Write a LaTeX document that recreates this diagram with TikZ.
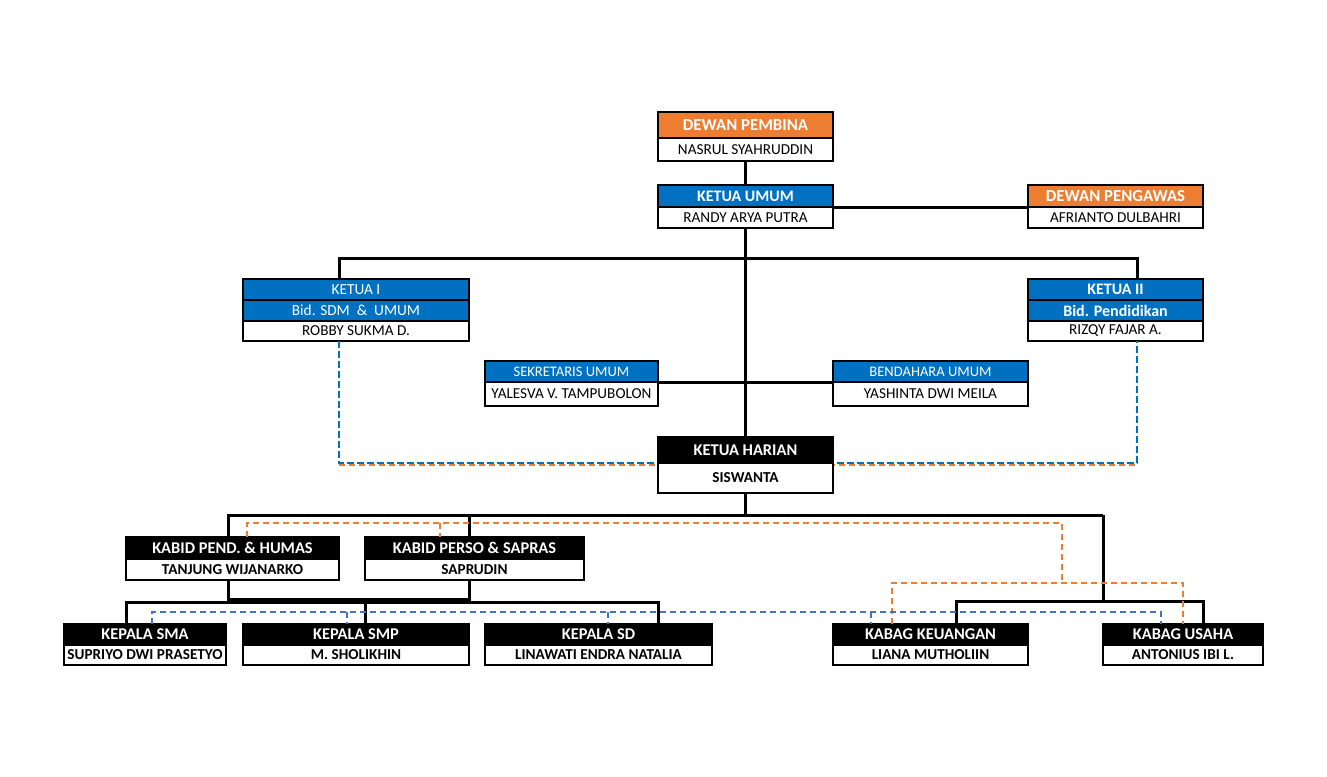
\documentclass[tikz,border=0pt]{standalone}
\usepackage{fontspec}
\setmainfont{Carlito}
\definecolor{xorange}{RGB}{237,125,49}
\definecolor{xblue}{RGB}{0,112,192}
\definecolor{lblue}{RGB}{68,114,196}
\newcommand\mycell[7]{\node[#2,minimum width={(#5-#3)*0.75pt},minimum height={(#6-#4)*0.75pt}] (#1) at ({(#3+#5)/2},{(#4+#6)/2}) {\raisebox{-0.8pt}{#7}};}
\begin{document}
\begin{tikzpicture}[x=0.75pt,y=-0.75pt,
  cell/.style={draw=black,line width=1pt,inner sep=0pt,outer sep=0pt,font=\fontsize{11.4}{13}\selectfont},
  oh/.style={cell,fill=xorange,text=white,font=\fontsize{12.6}{14}\selectfont\bfseries},
  bh/.style={cell,fill=xblue,text=white,font=\fontsize{11.5}{13}\selectfont},
  bhs/.style={cell,fill=xblue,text=white,font=\fontsize{10.9}{12}\selectfont},
  bhb/.style={cell,fill=xblue,text=white,font=\fontsize{12}{13}\selectfont\bfseries},
  kh/.style={cell,fill=black,text=white,font=\fontsize{12.3}{13}\selectfont\bfseries},
  nm/.style={cell,fill=white,text=black},
  nmb/.style={cell,fill=white,text=black,font=\fontsize{11.4}{13}\selectfont\bfseries},
  conn/.style={line width=2.25pt,black},
  bd/.style={line width=1.6pt,xblue,dash pattern=on 5pt off 2.5pt},
  od/.style={line width=0.9pt,xorange,dash pattern=on 4.5pt off 3pt},
  bdt/.style={line width=0.8pt,lblue,dash pattern=on 4.5pt off 3pt}]
\useasboundingbox[fill=white] (0,0) rectangle (1327,776);
% boxes
\mycell{pemb-h}{oh}{658}{112}{833}{138}{DEWAN PEMBINA}
\mycell{pemb-n}{nm}{658}{138}{833}{161}{NASRUL SYAHRUDDIN}
\mycell{umum-h}{bhb}{658}{185}{833}{207}{KETUA UMUM}
\mycell{umum-n}{nm}{658}{207}{833}{228}{RANDY ARYA PUTRA}
\mycell{peng-h}{oh}{1028}{185}{1203}{207}{DEWAN PENGAWAS}
\mycell{peng-n}{nm}{1028}{207}{1203}{228}{AFRIANTO DULBAHRI}
\mycell{k1-a}{bh}{243}{279}{469}{300}{KETUA I}
\mycell{k1-b}{bh}{243}{300}{469}{321}{Bid. SDM~~\&~~UMUM}
\mycell{k1-c}{nm}{243}{321}{469}{341}{ROBBY SUKMA D.}
\mycell{k2-a}{bhb}{1028}{279}{1203}{300}{KETUA II}
\mycell{k2-b}{bhb}{1028}{300}{1203}{321}{Bid. Pendidikan}
\mycell{k2-c}{nm}{1028}{321}{1203}{341}{RIZQY FAJAR A.}
\mycell{sek-h}{bhs}{485}{361}{658}{382}{SEKRETARIS UMUM}
\mycell{sek-n}{nm}{485}{382}{658}{406}{YALESVA V. TAMPUBOLON}
\mycell{ben-h}{bhs}{833}{361}{1028}{382}{BENDAHARA UMUM}
\mycell{ben-n}{nm}{833}{382}{1028}{406}{YASHINTA DWI MEILA}
% dashed lines behind ketua harian
\coordinate (b1) at (339,463);
\coordinate (b2) at (1137,463);
\coordinate (ob1) at (339,465);
\coordinate (ob2) at (1137,465);
\draw[od] (ob1) -- (ob2);
\draw[bd] (b1 |- k1-c.south) -- (b1) -- (b2) -- (b2 |- k2-c.south);
\mycell{har-h}{kh}{658}{437}{833}{463}{KETUA HARIAN}
\mycell{har-n}{nmb}{658}{463}{833}{493}{SISWANTA}
\mycell{kpend-h}{kh}{126}{537}{339}{559}{KABID PEND. \& HUMAS}
\mycell{kpend-n}{nmb}{126}{559}{339}{580}{TANJUNG WIJANARKO}
\mycell{kpers-h}{kh}{365}{537}{584}{559}{KABID PERSO \& SAPRAS}
\mycell{kpers-n}{nmb}{365}{559}{584}{580}{SAPRUDIN}
\mycell{sma-h}{kh}{64}{624}{226}{645}{KEPALA SMA}
\mycell{sma-n}{nmb}{64}{645}{226}{665}{SUPRIYO DWI PRASETYO}
\mycell{smp-h}{kh}{243}{624}{469}{645}{KEPALA SMP}
\mycell{smp-n}{nmb}{243}{645}{469}{665}{M. SHOLIKHIN}
\mycell{sd-h}{kh}{485}{624}{712}{645}{KEPALA SD}
\mycell{sd-n}{nmb}{485}{645}{712}{665}{LINAWATI ENDRA NATALIA}
\mycell{keu-h}{kh}{833}{624}{1028}{645}{KABAG KEUANGAN}
\mycell{keu-n}{nmb}{833}{645}{1028}{665}{LIANA MUTHOLIIN}
\mycell{usa-h}{kh}{1103}{624}{1263}{645}{KABAG USAHA}
\mycell{usa-n}{nmb}{1103}{645}{1263}{665}{ANTONIUS IBI L.}
% black connectors
\draw[conn] (pemb-n.south) -- (umum-h.north);
\draw[conn] (umum-n.south) -- (har-h.north);
\draw[conn] (umum-h.south east) -- (peng-h.south west);
\coordinate (d1) at (339,258);
\coordinate (d2) at (1137,258);
\draw[conn] (d1 |- k1-a.north) -- (d1) -- (d2) -- (d2 |- k2-a.north);
\draw[conn] (sek-h.south east) -- (ben-h.south west);
\coordinate (h1) at (228,515);
\coordinate (h2) at (1103,515);
\coordinate (h3) at (469,515);
\draw[conn] (har-n.south) -- (har-n.south |- h1);
\draw[conn] (h1 |- kpend-h.north) -- (h1) -- (h2);
\draw[conn] (h3) -- (h3 |- kpers-h.north);
\coordinate (u0) at (1103,601);
\coordinate (u1) at (956,601);
\coordinate (u2) at (1203,601);
\draw[conn] (h2) -- (u0);
\draw[conn] (u1 |- keu-h.north) -- (u1) -- (u2) -- (u2 |- usa-h.north);
\coordinate (l1) at (228,599.5);
\coordinate (l2) at (469,599.5);
\draw[conn] (l1 |- kpend-n.south) -- (l1) -- (l2) -- (l2 |- kpers-n.south);
\coordinate (m1) at (126,602);
\coordinate (m2) at (365,602);
\coordinate (m3) at (658,602);
\draw[conn] (m1 |- sma-h.north) -- (m1) -- (m3) -- (m3 |- sd-h.north);
\draw[conn] (m2) -- (m2 |- smp-h.north);
% orange dashed
\coordinate (o1) at (247,523);
\coordinate (o2) at (440,523);
\coordinate (o3) at (1062,523);
\coordinate (o4) at (1062,583);
\coordinate (o5) at (892,583);
\coordinate (o6) at (1183,583);
\draw[od] (o1 |- kpend-h.north) -- (o1) -- (o3) -- (o4);
\draw[od] (o2) -- (o2 |- kpers-h.north);
\draw[od] (o5 |- keu-h.north) -- (o5) -- (o6) -- (o6 |- usa-h.north);
% blue thin dashed
\coordinate (p1) at (152,612);
\coordinate (p2) at (347,612);
\coordinate (p3) at (608,612);
\coordinate (p4) at (871,612);
\coordinate (p5) at (1161,612);
\draw[bdt] (p1 |- sma-h.north) -- (p1) -- (p5) -- (p5 |- usa-h.north);
\draw[bdt] (p2) -- (p2 |- smp-h.north);
\draw[bdt] (p3) -- (p3 |- sd-h.north);
\draw[bdt] (p4) -- (p4 |- keu-h.north);
\end{tikzpicture}
\end{document}
